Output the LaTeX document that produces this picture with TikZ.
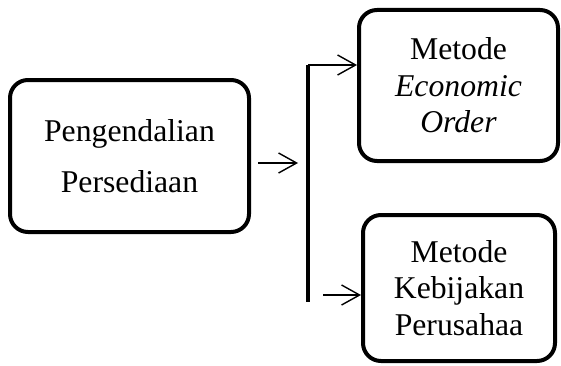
\documentclass[tikz,border=0pt]{standalone}
\usepackage{fontspec}
\setmainfont{Liberation Serif}
\usetikzlibrary{arrows.meta}
\begin{document}
\begin{tikzpicture}[x=1pt, y=1pt, line join=round, >={Straight Barb[length=18pt, width=20pt]},
	kotak/.style={draw, line width=4pt, rounded corners=18pt, align=center, inner sep=0pt, font=\fontsize{31.7}{36.5}\selectfont},
	panah/.style={->, line width=1.4pt}]
	\useasboundingbox (0,0) rectangle (561,365);
	\node[kotak, minimum width=239, minimum height=152, font=\fontsize{31.7}{51}\selectfont] (pengendalian) at (129.5,209) {Pengendalian\\Persediaan};
	\node[kotak, minimum width=199, minimum height=151] (eoq) at (458.5,279.5) {Metode\\\textit{Economic}\\\textit{Order}};
	\node[kotak, minimum width=192, minimum height=146] (kebijakan) at (459,77) {Metode\\Kebijakan\\Perusahaa};
	\path (308,300) coordinate (atas) (308,63) coordinate (bawah)
		(298,202) coordinate (tengah) (323,70) coordinate (cabang);
	\draw[line width=4.5pt] (atas)--(bawah);
	\draw[panah] ([shift={(7,-7)}]pengendalian.east)--(tengah);
	\draw[panah] (atas)--(atas -| eoq.west);
	\draw[panah] (cabang)--(cabang -| kebijakan.west);
\end{tikzpicture}
\end{document}
